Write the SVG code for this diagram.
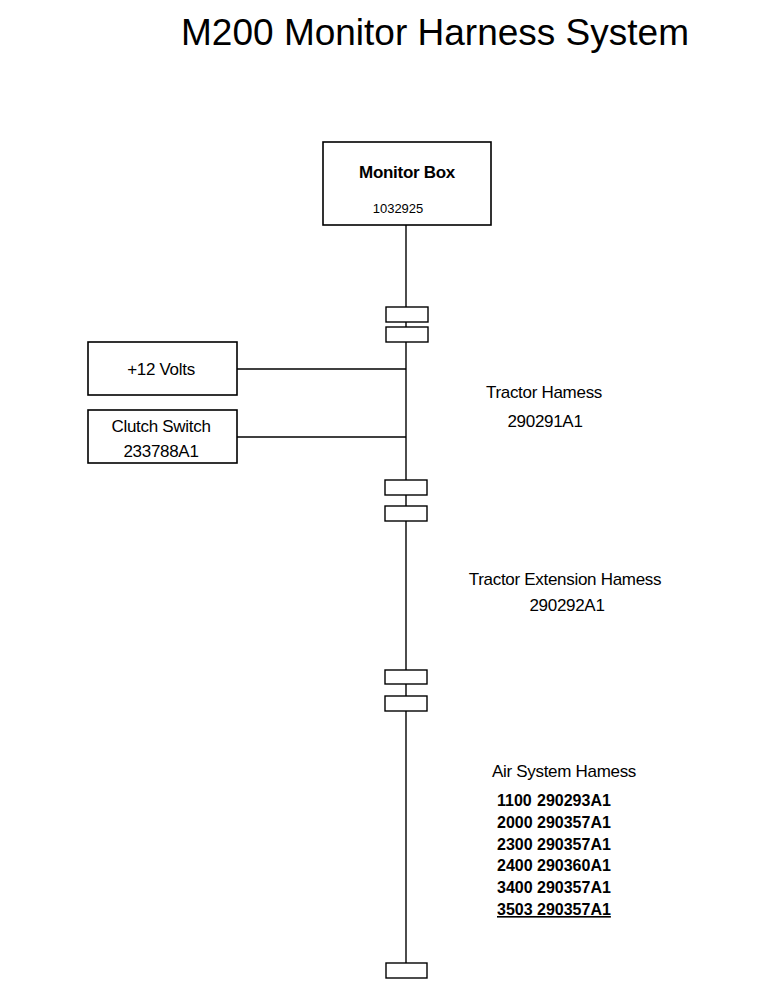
<svg xmlns="http://www.w3.org/2000/svg" width="768" height="1000" viewBox="0 0 768 1000">
<style>
.b{fill:#fff;stroke:#000;stroke-width:1.6}
.c{fill:#fff;stroke:#000;stroke-width:1.4}
.l{stroke:#000;stroke-width:1.4;fill:none}
text{font-family:"Liberation Sans",Arial,sans-serif;fill:#000}
.t{font-size:17px;text-anchor:middle;letter-spacing:-0.3px}
.s{font-size:13px;text-anchor:middle}
.n{font-size:16px;font-weight:bold}
</style>
<rect width="768" height="1000" fill="#fff"/>
<text x="435" y="45" font-size="37" text-anchor="middle">M200 Monitor Harness System</text>
<g id="connectors">
<line class="l" x1="406" y1="225" x2="406" y2="964"/>
<line class="l" x1="237" y1="369" x2="406" y2="369"/>
<line class="l" x1="237" y1="437" x2="406" y2="437"/>
</g>
<g id="monitor-box"><rect class="b" x="323" y="142" width="168" height="83"/>
<text class="t" x="407" y="178" font-weight="bold">Monitor Box</text><text class="s" x="398" y="213">1032925</text></g>
<g id="plus12"><rect class="b" x="88" y="342" width="149" height="53"/><text class="t" x="161" y="375">+12 Volts</text></g>
<g id="clutch"><rect class="b" x="88" y="410" width="149" height="53"/><text class="t" x="161" y="432">Clutch Switch</text><text class="t" x="161" y="457">233788A1</text></g>
<g id="conn1"><rect class="c" x="386" y="307" width="42" height="15"/><rect class="c" x="386" y="327" width="42" height="15"/></g>
<g id="conn2"><rect class="c" x="385" y="480" width="42" height="15"/><rect class="c" x="385" y="506" width="42" height="15"/></g>
<g id="conn3"><rect class="c" x="385" y="670" width="42" height="14"/><rect class="c" x="385" y="696" width="42" height="15"/></g>
<g id="conn4"><rect class="c" x="386" y="963" width="41" height="15"/></g>
<g id="tractor-harness"><text class="t" x="544" y="398">Tractor Hamess</text><text class="t" x="545" y="427">290291A1</text></g>
<g id="ext-harness"><text class="t" x="565" y="585">Tractor Extension Hamess</text><text class="t" x="567" y="611">290292A1</text></g>
<g id="air-harness"><text class="t" x="564" y="777">Air System Hamess</text>
<text class="n" x="497" y="806">1100 <tspan x="537">290293A1</tspan></text>
<text class="n" x="497" y="828">2000 <tspan x="537">290357A1</tspan></text>
<text class="n" x="497" y="850">2300 <tspan x="537">290357A1</tspan></text>
<text class="n" x="497" y="871">2400 <tspan x="537">290360A1</tspan></text>
<text class="n" x="497" y="893">3400 <tspan x="537">290357A1</tspan></text>
<text class="n" x="497" y="915" text-decoration="underline">3503 <tspan x="537">290357A1</tspan></text></g>
</svg>
